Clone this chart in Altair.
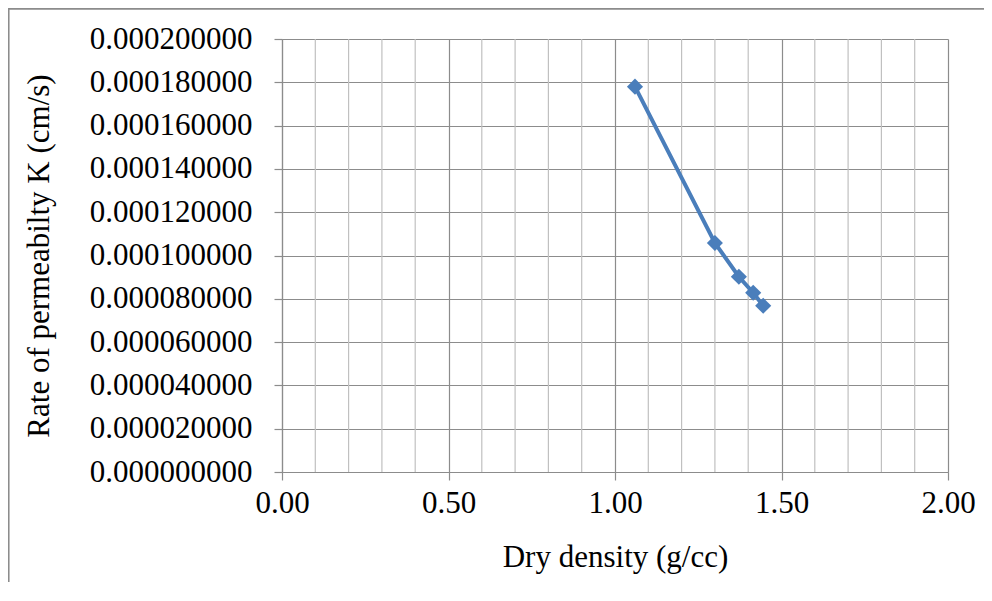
import altair as alt
import pandas as pd

# Data
dry_density = [1.06, 1.30, 1.372, 1.415, 1.445]
permeability = [0.000178, 0.0001058, 0.0000902, 0.0000828, 0.0000768]

x_major = [0.0, 0.5, 1.0, 1.5, 2.0]
x_minor = [0.1, 0.2, 0.3, 0.4, 0.6, 0.7, 0.8, 0.9, 1.1, 1.2, 1.3, 1.4, 1.6, 1.7, 1.8, 1.9]
y_ticks = [0.0, 0.00002, 0.00004, 0.00006, 0.00008, 0.0001, 0.00012, 0.00014, 0.00016, 0.00018, 0.0002]

df = pd.DataFrame({"x": dry_density, "y": permeability})
minor_df = pd.DataFrame({"x": x_minor})

FONT = "Liberation Serif, Times New Roman, serif"
W, H = 666, 433
PAD_L, PAD_T = 274, 31

xscale = alt.Scale(domain=[0, 2], nice=False, zero=False)
yscale = alt.Scale(domain=[0, 0.0002], nice=False)

minor = alt.Chart(minor_df).mark_rule(color="#c0c0c0", strokeWidth=1.2).encode(
    x=alt.X("x:Q", scale=xscale),
    y=alt.value(0),
    y2=alt.value(H),
)

line = alt.Chart(df).mark_line(color="#4a7ebb", strokeWidth=4).encode(
    x=alt.X(
        "x:Q",
        scale=xscale,
        axis=alt.Axis(
            values=x_major,
            format=".2f",
            title="Dry density (g/cc)",
            grid=True,
            gridColor="#8c8c8c",
            gridWidth=1.2,
            domainColor="#8c8c8c",
            domainWidth=1.2,
            tickColor="#8c8c8c",
            tickWidth=1.2,
            tickSize=8,
            labelFlush=False,
            labelPadding=8,
            titlePadding=24,
        ),
    ),
    y=alt.Y(
        "y:Q",
        scale=yscale,
        axis=alt.Axis(
            values=y_ticks,
            format=".9f",
            title="Rate of permeabilty K (cm/s)",
            grid=True,
            gridColor="#8c8c8c",
            gridWidth=1.2,
            domainColor="#8c8c8c",
            domainWidth=1.2,
            tickColor="#8c8c8c",
            tickWidth=1.2,
            tickSize=8,
            labelFlush=False,
            labelPadding=22,
            titlePadding=34,
        ),
    ),
)

points = alt.Chart(df).mark_point(
    shape="diamond", filled=True, size=260, color="#4a7ebb", opacity=1
).encode(x=alt.X("x:Q", scale=xscale), y=alt.Y("y:Q", scale=yscale))

border_top = alt.Chart(df).mark_rule(stroke="#8c8c8c", strokeWidth=1.3, clip=False).encode(
    x=alt.value(-PAD_L + 0.5),
    x2=alt.value(W + 100),
    y=alt.value(-PAD_T + 0.5),
)
border_left = alt.Chart(df).mark_rule(stroke="#8c8c8c", strokeWidth=1.3, clip=False).encode(
    x=alt.value(-PAD_L + 0.5),
    y=alt.value(-PAD_T + 0.5),
    y2=alt.value(H + 200),
)

chart = (
    alt.layer(border_top, border_left, minor, line, points)
    .properties(
        width=W,
        height=H,
        autosize=alt.AutoSizeParams(type="none"),
        padding={"left": PAD_L, "top": PAD_T, "right": 36, "bottom": 110},
    )
    .configure_view(stroke=None)
    .configure_axis(
        labelFont=FONT,
        titleFont=FONT,
        labelFontSize=31,
        titleFontSize=31,
        labelColor="#000000",
        titleColor="#000000",
        titleFontWeight="normal",
    )
)

chart.save("out.html", embed_options={"renderer": "svg", "actions": False})
